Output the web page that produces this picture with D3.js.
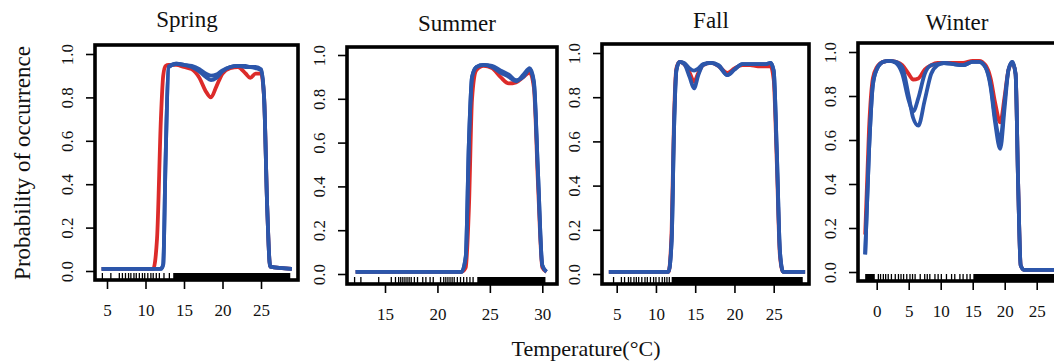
<!DOCTYPE html>
<html>
<head>
<meta charset="utf-8">
<script src="https://cdn.jsdelivr.net/npm/d3@7/dist/d3.min.js"></script>
<style>
  body { margin: 0; background: #fff; }
  svg text { font-family: "Liberation Serif", "Times New Roman", serif; fill: #111; }
</style>
</head>
<body>
<div id="chart"></div>
<script>
// temperature grids and fitted probabilities (red = one model, blue = two others)
const springT     = [4.3, 11.0, 11.5, 12.0, 12.3, 12.6, 13.0, 14, 15, 16, 17, 17.8, 18.5, 19.2, 20, 21, 22, 23, 23.6, 24.3, 25, 25.4, 25.8, 26.2, 29];
const springRed   = [0.01, 0.01, 0.15, 0.7, 0.9, 0.945, 0.95, 0.95, 0.94, 0.93, 0.89, 0.83, 0.80, 0.85, 0.91, 0.935, 0.94, 0.91, 0.89, 0.91, 0.91, 0.8, 0.3, 0.02, 0.01];
const springBlue1 = [0.01, 0.01, 0.01, 0.01, 0.03, 0.5, 0.94, 0.955, 0.95, 0.94, 0.92, 0.895, 0.88, 0.89, 0.92, 0.94, 0.945, 0.94, 0.94, 0.935, 0.925, 0.8, 0.3, 0.02, 0.01];
const springBlue2 = [0.01, 0.01, 0.01, 0.01, 0.03, 0.5, 0.94, 0.955, 0.95, 0.945, 0.93, 0.91, 0.9, 0.905, 0.925, 0.94, 0.945, 0.945, 0.94, 0.94, 0.93, 0.8, 0.3, 0.02, 0.01];

const summerT     = [12.2, 22.3, 22.7, 23.0, 23.3, 23.7, 24.4, 25.2, 26.0, 26.8, 27.5, 28.2, 28.8, 29.2, 29.6, 30.0, 30.4];
const summerRed   = [0.01, 0.01, 0.03, 0.3, 0.8, 0.93, 0.95, 0.94, 0.9, 0.87, 0.875, 0.9, 0.92, 0.85, 0.4, 0.03, 0.01];
const summerBlue1 = [0.01, 0.01, 0.08, 0.6, 0.9, 0.945, 0.955, 0.945, 0.92, 0.9, 0.88, 0.91, 0.94, 0.88, 0.45, 0.04, 0.01];
const summerBlue2 = [0.01, 0.01, 0.08, 0.6, 0.9, 0.945, 0.955, 0.95, 0.93, 0.91, 0.885, 0.9, 0.935, 0.87, 0.45, 0.04, 0.01];

const fallT     = [4.0, 11.6, 12.0, 12.3, 12.6, 13.0, 13.6, 14.3, 14.85, 15.4, 16.0, 17.0, 18.0, 19.1, 20.0, 21.0, 22.0, 23.0, 24.0, 24.6, 25.0, 25.4, 25.8, 26.2, 29.0];
const fallRed   = [0.01, 0.01, 0.2, 0.7, 0.93, 0.96, 0.95, 0.91, 0.87, 0.91, 0.945, 0.955, 0.94, 0.91, 0.93, 0.945, 0.945, 0.94, 0.94, 0.94, 0.88, 0.5, 0.08, 0.01, 0.01];
const fallBlue1 = [0.01, 0.01, 0.15, 0.65, 0.92, 0.96, 0.95, 0.89, 0.84, 0.9, 0.945, 0.955, 0.94, 0.9, 0.925, 0.95, 0.95, 0.95, 0.95, 0.955, 0.92, 0.55, 0.1, 0.01, 0.01];
const fallBlue2 = [0.01, 0.01, 0.15, 0.65, 0.92, 0.96, 0.955, 0.93, 0.92, 0.93, 0.95, 0.955, 0.945, 0.9, 0.925, 0.95, 0.95, 0.95, 0.95, 0.955, 0.92, 0.55, 0.1, 0.01, 0.01];

const winterT     = [-1.8, -1.2, -0.6, 0.0, 1.0, 2.0, 3.0, 4.0, 5.0, 5.7, 6.5, 7.5, 8.5, 9.5, 10.5, 12.0, 13.5, 15.0, 16.0, 17.0, 17.8, 18.5, 19.3, 20.0, 20.6, 21.2, 21.7, 22.1, 22.5, 23.0, 28.5];
const winterRed   = [0.17, 0.65, 0.88, 0.93, 0.955, 0.96, 0.955, 0.94, 0.9, 0.875, 0.88, 0.92, 0.94, 0.95, 0.95, 0.95, 0.95, 0.96, 0.96, 0.94, 0.88, 0.77, 0.68, 0.8, 0.92, 0.95, 0.9, 0.4, 0.03, 0.01, 0.01];
const winterBlue1 = [0.08, 0.55, 0.85, 0.92, 0.955, 0.96, 0.95, 0.9, 0.78, 0.73, 0.79, 0.9, 0.94, 0.945, 0.95, 0.945, 0.94, 0.955, 0.955, 0.93, 0.85, 0.7, 0.6, 0.78, 0.92, 0.955, 0.9, 0.4, 0.03, 0.01, 0.01];
const winterBlue2 = [0.08, 0.55, 0.85, 0.92, 0.955, 0.96, 0.955, 0.93, 0.8, 0.7, 0.665, 0.78, 0.9, 0.94, 0.95, 0.945, 0.94, 0.955, 0.955, 0.93, 0.84, 0.68, 0.56, 0.75, 0.92, 0.955, 0.9, 0.4, 0.03, 0.01, 0.01];

// observed temperatures (rug): single ticks and stretches too dense to separate
const springRug   = [4.4, 5.5, 6.6, 7.0, 7.4, 7.8, 8.1, 8.5, 8.8, 9.2, 9.6, 9.9, 10.3, 10.7, 11.0, 11.4, 11.8, 12.4, 13.1];
const springDense = [[13.6, 28.8]];
const summerRug   = [12.1, 12.7, 14.4, 15.6, 16.0, 16.3, 16.5, 16.7, 16.9, 17.1, 17.3, 17.5, 17.8, 18.1, 18.6, 18.9, 19.3, 19.6, 20.3, 20.6, 20.8, 21.0, 21.2, 21.4, 21.6, 21.9, 22.2, 22.5, 22.8, 23.1, 23.4];
const summerDense = [[23.8, 30.3]];
const fallRug     = [4.6, 5.6, 6.0, 6.5, 6.8, 7.2, 7.5, 7.8, 8.2, 8.6, 8.9, 9.3, 9.7, 10.0, 10.4, 10.8, 11.1, 11.4, 11.7];
const fallDense   = [[12.0, 28.7]];
const winterRug   = [0.26, 0.6, 1.04, 1.4, 1.8, 2.3, 2.9, 3.4, 3.8, 4.2, 4.7, 5.2, 5.6, 6.0, 6.8, 7.5, 7.9, 8.3, 9.1, 9.6, 10.1, 10.9, 11.7, 12.2, 13.0, 13.5, 14.1, 14.6];
const winterDense = [[-1.8, -0.3], [15.1, 30]];

const springXTicks = [5, 10, 15, 20, 25];
const summerXTicks = [15, 20, 25, 30];
const fallXTicks   = [5, 10, 15, 20, 25];
const winterXTicks = [0, 5, 10, 15, 20, 25];
const yTicks = [0, 0.2, 0.4, 0.6, 0.8, 1.0];

const seriesColors = ['#dc2b2a', '#2c56aa', '#2c56aa'];
const serif = '"Liberation Serif", "Times New Roman", serif';

const panels = [
  {title: 'Spring', t: springT, series: [springRed, springBlue1, springBlue2], rug: springRug, dense: springDense,
   xTicks: springXTicks, xd: [5, 25], xr: [107, 261], yr: [271, 54], box: {l: 95, r: 298, t: 45, b: 280}, titleX: 187, titleY: 27},
  {title: 'Summer', t: summerT, series: [summerRed, summerBlue1, summerBlue2], rug: summerRug, dense: summerDense,
   xTicks: summerXTicks, xd: [15, 30], xr: [385, 542.3], yr: [274, 55], box: {l: 347, r: 557, t: 47, b: 284}, titleX: 457, titleY: 31},
  {title: 'Fall', t: fallT, series: [fallRed, fallBlue1, fallBlue2], rug: fallRug, dense: fallDense,
   xTicks: fallXTicks, xd: [5, 25], xr: [616.7, 773.7], yr: [274, 53], box: {l: 602, r: 809, t: 44, b: 284}, titleX: 711, titleY: 28},
  {title: 'Winter', t: winterT, series: [winterRed, winterBlue1, winterBlue2], rug: winterRug, dense: winterDense,
   xTicks: winterXTicks, xd: [0, 25], xr: [876.7, 1036.7], yr: [272, 52], box: {l: 858, r: 1070, t: 43, b: 281}, titleX: 957, titleY: 30}
];

let width = 1054, height = 363;
let svg = d3.select('#chart').append('svg').attr('width', width).attr('height', height);

panels.forEach((p) => {
  let x = d3.scaleLinear().domain(p.xd).range(p.xr);
  let y = d3.scaleLinear().domain([0, 1]).range(p.yr);
  let g = svg.append('g');

  // rug
  let rugLen = 7;
  g.selectAll('.dense').data(p.dense).enter().append('rect')
    .attr('x', d => x(d[0]))
    .attr('width', d => x(d[1]) - x(d[0]))
    .attr('y', p.box.b - rugLen)
    .attr('height', rugLen)
    .attr('fill', '#000');
  g.selectAll('.rug').data(p.rug).enter().append('line')
    .attr('x1', d => x(d)).attr('x2', d => x(d))
    .attr('y1', p.box.b - rugLen).attr('y2', p.box.b)
    .attr('stroke', '#000').attr('stroke-width', 1.3);

  let line = d3.line()
    .curve(d3.curveMonotoneX)
    .x((d, i) => x(p.t[i]))
    .y(d => y(d));

  p.series.forEach((s, i) => {
    g.append('path')
      .attr('d', line(s))
      .attr('fill', 'none')
      .attr('stroke', seriesColors[i])
      .attr('stroke-width', 3.8)
      .attr('stroke-linejoin', 'round');
  });

  g.append('rect')
    .attr('x', p.box.l).attr('y', p.box.t)
    .attr('width', p.box.r - p.box.l).attr('height', p.box.b - p.box.t)
    .attr('fill', 'none').attr('stroke', '#000').attr('stroke-width', 3.6);

  let xAxis = g.append('g')
    .attr('transform', 'translate(0,' + p.box.b + ')')
    .call(d3.axisBottom(x).tickValues(p.xTicks).tickSize(9).tickSizeOuter(0));
  xAxis.attr('font-family', serif).attr('font-size', 17);
  xAxis.select('.domain').remove();
  xAxis.selectAll('line').attr('stroke', '#000').attr('stroke-width', 1.6);
  xAxis.selectAll('text')
    .attr('y', 36).attr('dy', 0)
    .attr('fill', '#111');

  let yAxis = g.append('g')
    .attr('transform', 'translate(' + p.box.l + ',0)')
    .call(d3.axisLeft(y).tickValues(yTicks).tickSize(9).tickFormat(d3.format('.1f')));
  yAxis.attr('font-family', serif).attr('font-size', 17);
  yAxis.select('.domain').remove();
  yAxis.selectAll('line').attr('stroke', '#000').attr('stroke-width', 1.6);
  yAxis.selectAll('text')
    .attr('x', 0).attr('y', -22).attr('dy', 0)
    .attr('transform', 'rotate(-90)')
    .attr('text-anchor', 'middle')
    .attr('fill', '#111');

  g.append('text')
    .attr('x', p.titleX).attr('y', p.titleY)
    .attr('text-anchor', 'middle')
    .style('font-size', '23px')
    .text(p.title);
});

svg.append('text')
  .attr('transform', 'translate(30,163) rotate(-90)')
  .attr('text-anchor', 'middle')
  .style('font-size', '23px')
  .text('Probability of occurrence');

svg.append('text')
  .attr('x', 586).attr('y', 356)
  .attr('text-anchor', 'middle')
  .style('font-size', '22px')
  .text('Temperature(°C)');
</script>
</body>
</html>
